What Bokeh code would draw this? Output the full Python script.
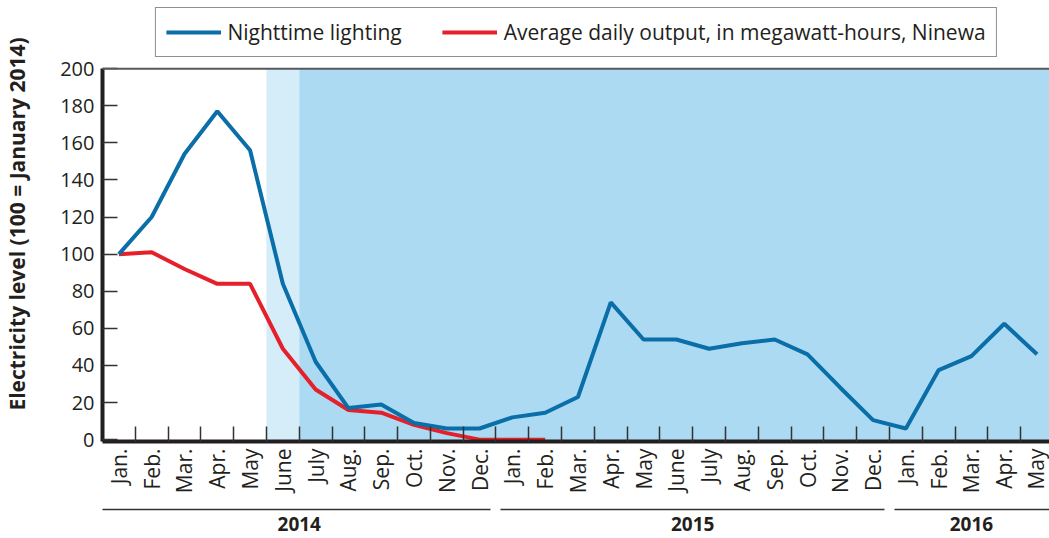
import math
from bokeh.plotting import figure
from bokeh.models import (FixedTicker, BoxAnnotation, Span, Legend, LinearAxis,
                          LegendItem, Range1d)
from bokeh.embed import file_html
from bokeh.resources import INLINE

# ---------------- data ----------------
months = ["Jan.", "Feb.", "Mar.", "Apr.", "May", "June", "July", "Aug.", "Sep.", "Oct.", "Nov.", "Dec.",
          "Jan.", "Feb.", "Mar.", "Apr.", "May", "June", "July", "Aug.", "Sep.", "Oct.", "Nov.", "Dec.",
          "Jan.", "Feb.", "Mar.", "Apr.", "May"]
years = ["2014", "2015", "2016"]
months_per_year = [12, 12, 5]

nighttime_lighting = [100, 120, 154, 177, 156, 84, 42, 17, 19, 9, 6, 6,
                      12, 14.5, 23, 74, 54, 54, 49, 52, 54, 46, 28, 10.5,
                      6, 37.5, 45, 62.5, 46]
daily_output = [100, 101, 92, 84, 84, 49, 27, 16, 14.5, 8, 3.5, 0,
                0, 0]

y_ticks = list(range(0, 201, 20))
y_max = 200
# months (index) where shading phases begin
light_phase_start = 5   # June 2014 (partial)
dark_phase_start = 6    # July 2014 onward

# ---------------- styles ----------------
FONT = "Open Sans"
TXT = "#231f20"
BLUE = "#0a6ea8"
RED = "#e5202a"
LIGHT = "#d5ecf9"
DARK = "#acdaf2"

x = list(range(len(months)))

# frame extends above the data area so the legend can sit there
p = figure(width=1049, height=538, output_backend="svg", toolbar_location=None,
           x_range=Range1d(-0.5, 28.38), y_range=Range1d(-1.0, 233.5),
           min_border_left=101, min_border_right=0, min_border_top=6,
           min_border_bottom=97)
p.outline_line_color = None
p.grid.grid_line_color = None

# shading
p.add_layout(BoxAnnotation(left=light_phase_start - 0.5, right=dark_phase_start - 0.5, top=y_max,
                           fill_color=LIGHT, fill_alpha=1, line_color=None, level="underlay"))
p.add_layout(BoxAnnotation(left=dark_phase_start - 0.5, top=y_max,
                           fill_color=DARK, fill_alpha=1, line_color=None, level="underlay"))

# top border line
p.add_layout(Span(location=y_max, dimension="width", line_color="#58595b", line_width=2))

r_out = p.line(x[:len(daily_output)], daily_output, line_color=RED, line_width=4)
r_night = p.line(x, nighttime_lighting, line_color=BLUE, line_width=4)

# x axis (months)
xa = p.xaxis[0]
xa.ticker = FixedTicker(ticks=x, minor_ticks=[i - 0.5 for i in range(len(months) + 1)])
xa.major_label_overrides = {i: m for i, m in enumerate(months)}
xa.major_label_orientation = math.pi / 2
xa.major_tick_in = 0
xa.major_tick_out = 0
xa.minor_tick_in = 15
xa.minor_tick_out = 0
xa.minor_tick_line_color = "#333333"
xa.minor_tick_line_width = 1.5
xa.axis_line_width = 4
xa.axis_line_color = TXT
xa.major_label_text_font = FONT
xa.major_label_text_font_size = "21px"
xa.major_label_text_color = TXT
xa.major_label_standoff = 7
xa.axis_label = " "
xa.axis_label_text_font_size = "8px"
xa.axis_label_standoff = 1

# year axis (groups)
centers, bounds = [], []
start = 0
for n in months_per_year:
    centers.append(start + (n - 1) / 2)
    start += n
    bounds.append(start - 0.5)
yax = LinearAxis(ticker=FixedTicker(ticks=centers, minor_ticks=bounds[:-1]))
yax.major_label_overrides = {c: yr for c, yr in zip(centers, years)}
yax.major_tick_in = 0
yax.major_tick_out = 0
yax.minor_tick_in = 4
yax.minor_tick_out = 4
yax.minor_tick_line_color = "white"
yax.minor_tick_line_width = 10
yax.axis_line_width = 1.5
yax.axis_line_color = "#333333"
yax.major_label_text_font = FONT
yax.major_label_text_font_style = "bold"
yax.major_label_text_font_size = "19px"
yax.major_label_text_color = TXT
yax.major_label_standoff = 3
p.add_layout(yax, "below")

# y axis
ya = p.yaxis[0]
ya.ticker = FixedTicker(ticks=y_ticks)
ya.bounds = (-1.0, y_max)
ya.major_tick_in = 15
ya.major_tick_out = 0
ya.major_tick_line_color = "#333333"
ya.major_tick_line_width = 1.5
ya.minor_tick_line_color = None
ya.axis_line_width = 4
ya.axis_line_color = TXT
ya.major_label_text_font = FONT
ya.major_label_text_font_size = "20px"
ya.major_label_text_color = TXT
ya.major_label_standoff = 8
ya.axis_label = "Electricity level (100 = January 2014)"
ya.axis_label_text_font = FONT
ya.axis_label_text_font_style = "bold"
ya.axis_label_text_font_size = "21px"
ya.axis_label_text_color = TXT
ya.axis_label_standoff = 26

legend = Legend(items=[LegendItem(label="Nighttime lighting", renderers=[r_night]),
                       LegendItem(label="Average daily output, in megawatt-hours, Ninewa",
                                  renderers=[r_out])],
                orientation="horizontal", location="top",
                glyph_width=55, glyph_height=20, label_height=20, label_standoff=7,
                spacing=40, padding=10, margin=1,
                border_line_color=TXT, border_line_width=1.5,
                label_text_font=FONT, label_text_font_size="21px", label_text_color=TXT,
                background_fill_color="white", background_fill_alpha=1)
p.add_layout(legend, "center")

open("out.html", "w").write(file_html(p, INLINE))
